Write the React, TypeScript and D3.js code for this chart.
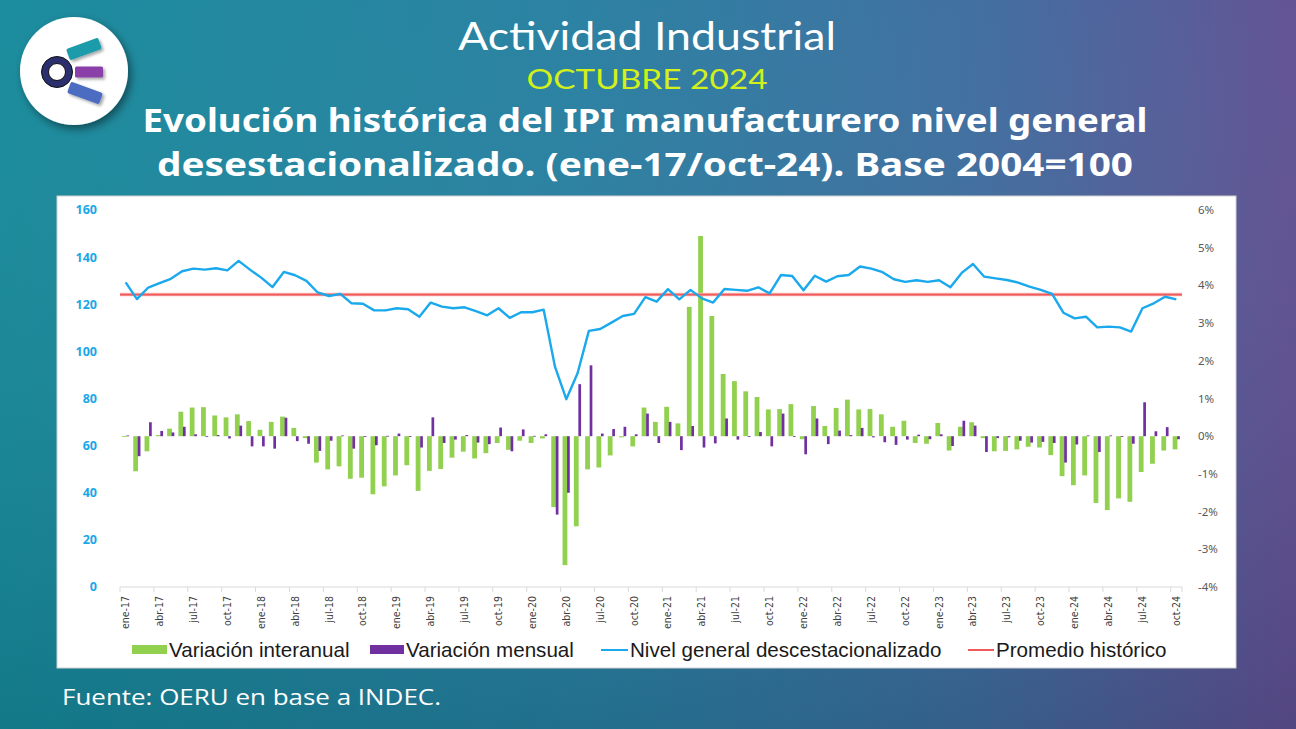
import React from "react";
import * as d3 from "d3";

// ---- data ----
const monthNames = ["ene", "feb", "mar", "abr", "may", "jun", "jul", "ago", "sep", "oct", "nov", "dic"];
const years = ["17", "18", "19", "20", "21", "22", "23", "24"];
const categories: string[] = [];
years.forEach((y) => monthNames.forEach((m) => categories.push(`${m}-${y}`)));
categories.splice(94); // ene-17 ... oct-24

const tickLabels = [
  "ene-17", "abr-17", "jul-17", "oct-17", "ene-18", "abr-18", "jul-18", "oct-18",
  "ene-19", "abr-19", "jul-19", "oct-19", "ene-20", "abr-20", "jul-20", "oct-20",
  "ene-21", "abr-21", "jul-21", "oct-21", "ene-22", "abr-22", "jul-22", "oct-22",
  "ene-23", "abr-23", "jul-23", "oct-23", "ene-24", "abr-24", "jul-24", "oct-24",
];

// Variación interanual (plotted on right axis units)
const interanual = [
  0, -0.93, -0.4, 0.03, 0.2, 0.65, 0.76, 0.77, 0.55, 0.5, 0.58, 0.4,
  0.17, 0.38, 0.52, 0.22, -0.05, -0.7, -0.88, -0.8, -1.13, -1.1, -1.54, -1.33,
  -1.04, -0.77, -1.45, -0.92, -0.87, -0.57, -0.41, -0.59, -0.45, -0.18, -0.36, -0.12,
  -0.18, -0.06, -1.88, -3.42, -2.39, -0.88, -0.83, -0.51, -0.03, -0.27, 0.76, 0.38,
  0.78, 0.34, 3.43, 5.31, 3.19, 1.65, 1.46, 1.19, 1.04, 0.71, 0.72, 0.85,
  -0.08, 0.8, 0.27, 0.75, 0.97, 0.71, 0.72, 0.58, 0.25, 0.41, -0.18, -0.2,
  0.35, -0.38, 0.25, 0.37, -0.05, -0.4, -0.39, -0.35, -0.28, -0.3, -0.5, -1.06,
  -1.3, -1.04, -1.77, -1.96, -1.65, -1.74, -0.95, -0.73, -0.38, -0.35,
];

// Variación mensual (right axis units)
const mensual = [
  0.02, -0.53, 0.37, 0.14, 0.1, 0.25, 0.05, -0.02, 0.03, -0.06, 0.28, -0.27,
  -0.27, -0.33, 0.49, -0.13, -0.2, -0.39, -0.12, 0.02, -0.33, -0.01, -0.24, 0.01,
  0.07, -0.02, -0.3, 0.5, -0.18, -0.09, 0.03, -0.17, -0.21, 0.23, -0.4, 0.18,
  0.01, 0.05, -2.08, -1.5, 1.38, 1.88, 0.07, 0.19, 0.25, 0.05, 0.6, -0.18,
  0.38, -0.37, 0.27, -0.3, -0.19, 0.47, -0.09, -0.02, 0.11, -0.27, 0.6, -0.02,
  -0.48, 0.47, -0.21, 0.15, 0.03, 0.22, -0.03, -0.16, -0.23, -0.09, 0.04, -0.08,
  0.05, -0.26, 0.41, 0.28, -0.42, -0.05, -0.03, -0.12, -0.17, -0.15, -0.18, -0.7,
  -0.22, 0.02, -0.42, 0.02, -0.02, -0.2, 0.9, 0.13, 0.24, -0.08,
];

// Nivel general desestacionalizado (left axis)
const nivel = [
  129.3, 122.2, 127.1, 129.0, 130.8, 134.0, 135.1, 134.7, 135.3, 134.4, 138.4, 134.7,
  131.3, 127.3, 133.7, 132.3, 129.9, 125.0, 123.5, 124.4, 120.4, 120.2, 117.4, 117.4,
  118.3, 117.9, 114.7, 120.7, 119.0, 118.3, 118.7, 117.1, 115.3, 118.3, 114.2, 116.6,
  116.6, 117.7, 93.5, 79.7, 90.7, 108.7, 109.5, 112.2, 115.0, 115.9, 123.0, 121.1,
  126.4, 122.1, 126.1, 122.5, 120.7, 126.5, 126.1, 125.7, 127.2, 124.6, 132.4, 132.0,
  125.9, 132.1, 129.6, 131.9, 132.4, 136.0, 135.1, 133.6, 130.6, 129.5, 130.2, 129.5,
  130.2, 127.2, 133.3, 137.1, 131.7, 131.0, 130.3, 129.2, 127.5, 126.1, 124.4, 116.4,
  114.0, 114.7, 110.2, 110.5, 110.2, 108.4, 118.3, 120.4, 123.2, 122.1,
];

const promedioHistorico = 124.1;

const leftTicks = [0, 20, 40, 60, 80, 100, 120, 140, 160];
const rightTicks = [-4, -3, -2, -1, 0, 1, 2, 3, 4, 5, 6];

const legendItems = [
  { label: "Variación interanual", kind: "rect", color: "#92d050" },
  { label: "Variación mensual", kind: "rect", color: "#7030a0" },
  { label: "Nivel general descestacionalizado", kind: "line", color: "#19a9ec" },
  { label: "Promedio histórico", kind: "line", color: "#f05a5a" },
];

const W = 1296;
const H = 729;
const plot = { left: 120, right: 1182, top: 210, bottom: 587 };

export default function App() {
  const idx = categories.map((_, i) => i);
  const x = d3.scaleBand<number>().domain(idx).range([plot.left, plot.right]).paddingInner(0).paddingOuter(0);
  const bw = x.bandwidth();
  const cx = (i: number) => (x(i) as number) + bw / 2;
  const yL = d3.scaleLinear().domain([0, 160]).range([plot.bottom, plot.top]);
  const yR = d3.scaleLinear().domain([-4, 6]).range([plot.bottom, plot.top]);

  const linePath = d3
    .line<number>()
    .x((_, i) => cx(i))
    .y((d) => yL(d))(nivel) as string;

  const tickIdx = idx.filter((i) => i % 3 === 0);
  const legendX = [132, 370, 601, 968];
  const legendW = [35, 34, 27, 26];

  return (
    <svg
      width={W}
      height={H}
      style={{ position: "fixed", left: 0, top: 0, display: "block" }}
      xmlns="http://www.w3.org/2000/svg"
    >
      <defs>
        <linearGradient id="bg" x1="0" y1="0" x2="1" y2="0">
          <stop offset="0%" stopColor="#14899a" />
          <stop offset="45%" stopColor="#267ea0" />
          <stop offset="75%" stopColor="#3c6c9e" />
          <stop offset="100%" stopColor="#5e4f92" />
        </linearGradient>
        <linearGradient id="bgv" x1="0" y1="0" x2="0" y2="1">
          <stop offset="0%" stopColor="#ffffff" stopOpacity={0.03} />
          <stop offset="100%" stopColor="#000000" stopOpacity={0.12} />
        </linearGradient>
        <filter id="shadow" x="-30%" y="-30%" width="160%" height="160%">
          <feDropShadow dx="3" dy="4" stdDeviation="4" floodColor="#000" floodOpacity="0.45" />
        </filter>
        <filter id="barShadow" x="-30%" y="-60%" width="160%" height="220%">
          <feDropShadow dx="2" dy="2" stdDeviation="1.5" floodColor="#000" floodOpacity="0.35" />
        </filter>
      </defs>

      {/* background */}
      <rect x={0} y={0} width={W} height={H} fill="url(#bg)" />
      <rect x={0} y={0} width={W} height={H} fill="url(#bgv)" />

      {/* logo */}
      <g>
        <circle cx={74} cy={71} r={54} fill="#ffffff" filter="url(#shadow)" />
        <g filter="url(#barShadow)">
          <rect x={-17} y={-6} width={34} height={12} rx={2} fill="#1b9bab" transform="translate(84,49) rotate(-20)" />
          <rect x={-14} y={-5.5} width={28} height={11} rx={1.5} fill="#8a3fa8" transform="translate(89,72)" />
          <rect x={-17} y={-6} width={34} height={12} rx={2} fill="#4c6cc0" transform="translate(85,93) rotate(20)" />
        </g>
        <circle cx={57} cy={72} r={12} fill="#ffffff" stroke="#2b2f6e" strokeWidth={7} />
        <circle cx={57} cy={72} r={15.5} fill="none" stroke="#111" strokeWidth={1} />
        <circle cx={57} cy={72} r={8.5} fill="none" stroke="#111" strokeWidth={1} />
      </g>

      {/* titles */}
      <text x={647} y={50} textAnchor="middle" fill="#ffffff" fontFamily="Lato, 'Open Sans', sans-serif" fontSize={38} textLength={378} lengthAdjust="spacingAndGlyphs">
        Actividad Industrial
      </text>
      <text x={647} y={89} textAnchor="middle" fill="#d4f01a" fontFamily="Lato, 'Open Sans', sans-serif" fontSize={26} textLength={241} lengthAdjust="spacingAndGlyphs">
        OCTUBRE 2024
      </text>
      <text x={645} y={132} textAnchor="middle" fill="#ffffff" fontFamily="'Noto Sans', 'Open Sans', sans-serif" fontWeight={700} fontSize={33} textLength={1005} lengthAdjust="spacingAndGlyphs">
        Evolución histórica del IPI manufacturero nivel general
      </text>
      <text x={645} y={176} textAnchor="middle" fill="#ffffff" fontFamily="'Noto Sans', 'Open Sans', sans-serif" fontWeight={700} fontSize={33} textLength={976} lengthAdjust="spacingAndGlyphs">
        desestacionalizado. (ene-17/oct-24). Base 2004=100
      </text>

      {/* chart panel */}
      <rect x={57} y={196} width={1179} height={472} fill="#ffffff" stroke="#d0d0d0" strokeWidth={1} />

      {/* left axis labels */}
      {leftTicks.map((t) => (
        <text key={`l${t}`} x={97} y={yL(t)} dy="0.35em" textAnchor="end" fill="#1aa7e8" fontFamily="'Noto Sans', sans-serif" fontWeight={700} fontSize={12.5}>
          {t}
        </text>
      ))}
      {/* right axis labels */}
      {rightTicks.map((t) => (
        <text key={`r${t}`} x={1198} y={yR(t)} dy="0.35em" textAnchor="start" fill="#595959" fontFamily="'Noto Sans', sans-serif" fontSize={11.5}>
          {`${t}%`}
        </text>
      ))}

      {/* x axis */}
      <line x1={plot.left} x2={plot.right} y1={plot.bottom} y2={plot.bottom} stroke="#d9d9d9" strokeWidth={1} />
      {tickIdx.map((i) => (
        <line key={`t${i}`} x1={x(i) as number} x2={x(i) as number} y1={plot.bottom} y2={plot.bottom + 5} stroke="#d9d9d9" strokeWidth={1} />
      ))}
      <line x1={plot.right} x2={plot.right} y1={plot.bottom} y2={plot.bottom + 5} stroke="#d9d9d9" strokeWidth={1} />
      {tickIdx.map((i, k) => (
        <text
          key={`xl${i}`}
          transform={`translate(${cx(i) + 3.5},${plot.bottom + 9}) rotate(-90)`}
          textAnchor="end"
          fill="#404040"
          fontFamily="'Liberation Sans Narrow', 'DejaVu Sans Condensed', 'Liberation Sans', sans-serif"
          fontSize={10.5}
        >
          {tickLabels[k]}
        </text>
      ))}

      {/* bars */}
      {interanual.map((v, i) => (
        <rect
          key={`g${i}`}
          x={cx(i) - 3.7}
          y={Math.min(yR(v), yR(0))}
          width={4.8}
          height={Math.max(0.8, Math.abs(yR(v) - yR(0)))}
          fill="#92d050"
        />
      ))}
      {mensual.map((v, i) => (
        <rect
          key={`p${i}`}
          x={cx(i) + 0.8}
          y={Math.min(yR(v), yR(0))}
          width={2.7}
          height={Math.max(0.8, Math.abs(yR(v) - yR(0)))}
          fill="#7030a0"
        />
      ))}

      {/* promedio historico */}
      <line x1={plot.left} x2={plot.right} y1={yL(promedioHistorico)} y2={yL(promedioHistorico)} stroke="#f9b0b0" strokeWidth={3.5} />
      <line x1={plot.left} x2={plot.right} y1={yL(promedioHistorico)} y2={yL(promedioHistorico)} stroke="#f05a5a" strokeWidth={1.8} />

      {/* nivel line */}
      <path d={linePath} fill="none" stroke="#19a9ec" strokeWidth={2.4} strokeLinejoin="round" />

      {/* legend */}
      {legendItems.map((it, k) => (
        <g key={`lg${k}`}>
          {it.kind === "rect" ? (
            <rect x={legendX[k]} y={645} width={legendW[k]} height={9} fill={it.color} />
          ) : (
            <line x1={legendX[k]} x2={legendX[k] + legendW[k]} y1={650} y2={650} stroke={it.color} strokeWidth={2} />
          )}
          <text x={legendX[k] + legendW[k] + 2} y={650} dy="0.35em" fill="#1a1a1a" fontFamily="'Liberation Sans', Arial, sans-serif" fontSize={20.6}>
            {it.label}
          </text>
        </g>
      ))}

      {/* source */}
      <text x={62} y={705} fill="#ffffff" fontFamily="'Open Sans', Lato, sans-serif" fontSize={22} textLength={379} lengthAdjust="spacingAndGlyphs">
        Fuente: OERU en base a INDEC.
      </text>
    </svg>
  );
}
